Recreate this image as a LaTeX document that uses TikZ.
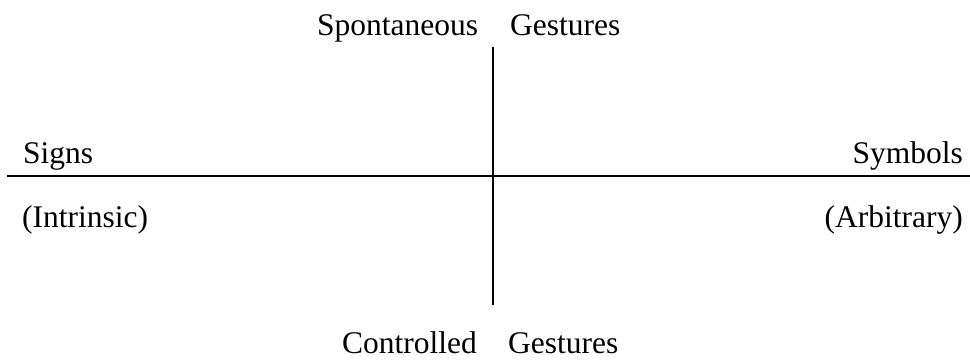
\documentclass[tikz,border=0pt]{standalone}
\usepackage{fontspec}
\setmainfont{Liberation Serif}
\begin{document}
\begin{tikzpicture}[x=1pt,y=-1pt,
  lbl/.style={inner sep=0pt,font=\fontsize{31.5}{36}\selectfont},
  axis/.style={line width=2pt}]
\useasboundingbox (0,0) rectangle (970,362);
\coordinate (hl) at (7,176);
\coordinate (hr) at (970,176);
\coordinate (vt) at (493,47);
\coordinate (vb) at (493,305);
\draw[axis] (hl) -- (hr);
\draw[axis] (vt) -- (vb);
\node[lbl,anchor=base west] (sp) at (317,35) {Spontaneous};
\node[lbl,anchor=base west] (g1) at (510,35) {Gestures};
\node[lbl,anchor=base west] (co) at (342,353) {Controlled};
\node[lbl,anchor=base west] (g2) at (508,353) {Gestures};
\node[lbl,anchor=base west] (si) at (23,163) {Signs};
\node[lbl,anchor=base east] (sy) at (963,163) {Symbols};
\node[lbl,anchor=base west] (in) at (22,227) {(Intrinsic)};
\node[lbl,anchor=base east] (ar) at (963,227) {(Arbitrary)};
\end{tikzpicture}
\end{document}
